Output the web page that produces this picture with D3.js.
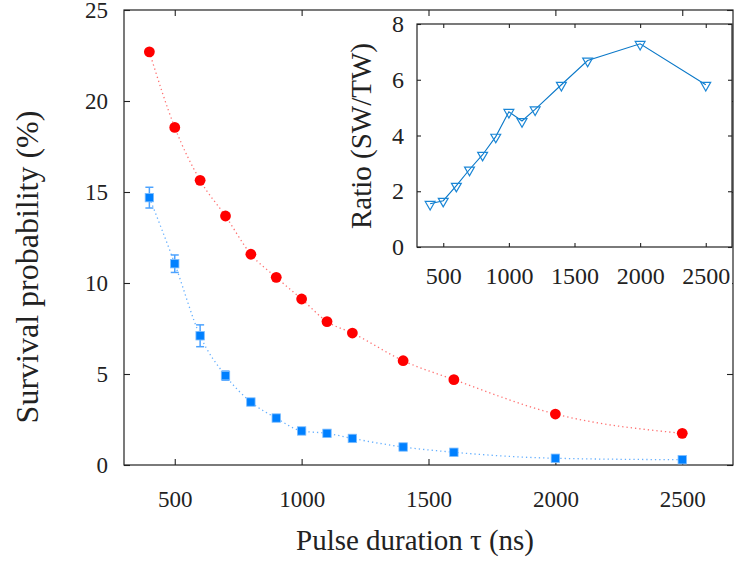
<!DOCTYPE html>
<html>
<head>
<meta charset="utf-8">
<script src="https://cdn.jsdelivr.net/npm/d3@7"></script>
<style>
  body { margin: 0; background: #fff; }
</style>
</head>
<body>
<svg id="chart" width="734" height="563"></svg>
<script>
// pulse durations (ns)
var tau = [400, 500, 600, 700, 800, 900, 1000, 1100, 1200, 1400, 1600, 2000, 2500];
// survival probability (%), red circles
var survRed = [22.7, 18.55, 15.64, 13.68, 11.58, 10.31, 9.12, 7.88, 7.25, 5.73, 4.69, 2.80, 1.74];
// survival probability (%), blue squares, with error
var survBlue = [14.69, 11.06, 7.10, 4.91, 3.46, 2.58, 1.87, 1.74, 1.46, 0.99, 0.70, 0.37, 0.29];
var errBlue = [0.57, 0.48, 0.60, 0.25, 0.12, 0.10, 0.08, 0.08, 0.07, 0.05, 0.05, 0.04, 0.04];
// inset: ratio SW/TW
var ratio = [1.55, 1.66, 2.20, 2.78, 3.31, 3.96, 4.85, 4.52, 4.94, 5.82, 6.69, 7.29, 5.82];

var xTicks = [500, 1000, 1500, 2000, 2500];
var yTicks = [0, 5, 10, 15, 20, 25];
var insetYTicks = [0, 2, 4, 6, 8];

var FONT = "'Liberation Serif', 'Times New Roman', serif";

var svg = d3.select('#chart');

// main axes frame
var main = {left: 124, top: 10, right: 733, bottom: 465};
var x = d3.scaleLinear().domain([300, 2700]).range([main.left, main.right]);
var y = d3.scaleLinear().domain([0, 25]).range([main.bottom, main.top]);

function frame(g, xs, ys, box, xt, yt, fontSize, tickLen, xPad, yPad) {
  // inward ticks on all four sides
  g.append('g')
    .attr('transform', 'translate(0,' + box.bottom + ')')
    .call(d3.axisBottom(xs).tickValues(xt).tickFormat(d3.format('d'))
      .tickSizeInner(-tickLen).tickSizeOuter(0).tickPadding(tickLen + xPad))
    .call(styleAxis, fontSize);
  g.append('g')
    .attr('transform', 'translate(0,' + box.top + ')')
    .call(d3.axisTop(xs).tickValues(xt).tickSizeInner(-tickLen).tickSizeOuter(0).tickFormat(''))
    .call(styleAxis, fontSize);
  g.append('g')
    .attr('transform', 'translate(' + box.left + ',0)')
    .call(d3.axisLeft(ys).tickValues(yt).tickFormat(d3.format('d'))
      .tickSizeInner(-tickLen).tickSizeOuter(0).tickPadding(tickLen + yPad))
    .call(styleAxis, fontSize);
  g.append('g')
    .attr('transform', 'translate(' + box.right + ',0)')
    .call(d3.axisRight(ys).tickValues(yt).tickSizeInner(-tickLen).tickSizeOuter(0).tickFormat(''))
    .call(styleAxis, fontSize);
  g.append('rect')
    .attr('x', box.left).attr('y', box.top)
    .attr('width', box.right - box.left).attr('height', box.bottom - box.top)
    .attr('fill', 'none').attr('stroke', '#222').attr('stroke-width', 1.2);
}

function styleAxis(a, fontSize) {
  a.attr('font-size', fontSize);
  a.select('.domain').remove();
  a.selectAll('.tick line').attr('stroke', '#222').attr('stroke-width', 1.1);
  a.selectAll('text').attr('fill', '#222').style('font-family', FONT);
}

var gMain = svg.append('g');
frame(gMain, x, y, main, xTicks, yTicks, 23, 6, 20, 10);

// dotted guide curves
var guide = d3.line()
  .x(function(d, i) { return x(tau[i]); })
  .y(function(d) { return y(d); })
  .curve(d3.curveMonotoneX);

gMain.append('path')
  .attr('d', guide(survBlue))
  .attr('fill', 'none')
  .attr('stroke', '#66b0ff')
  .attr('stroke-width', 1.3)
  .attr('stroke-dasharray', '1.3,3');

gMain.append('path')
  .attr('d', guide(survRed))
  .attr('fill', 'none')
  .attr('stroke', '#ff7070')
  .attr('stroke-width', 1.3)
  .attr('stroke-dasharray', '1.3,3');

// error bars
var eb = gMain.append('g')
  .attr('stroke', '#4da3ff')
  .attr('stroke-width', 1.5);
tau.forEach(function(t, i) {
  var cx = x(t), y0 = y(survBlue[i] - errBlue[i]), y1 = y(survBlue[i] + errBlue[i]);
  eb.append('line').attr('x1', cx).attr('x2', cx).attr('y1', y0).attr('y2', y1);
  eb.append('line').attr('x1', cx - 4).attr('x2', cx + 4).attr('y1', y0).attr('y2', y0);
  eb.append('line').attr('x1', cx - 4).attr('x2', cx + 4).attr('y1', y1).attr('y2', y1);
});

gMain.selectAll('rect.sq')
  .data(survBlue)
  .enter()
  .append('rect')
  .attr('class', 'sq')
  .attr('x', function(d, i) { return x(tau[i]) - 4.2; })
  .attr('y', function(d) { return y(d) - 4.2; })
  .attr('width', 8.4)
  .attr('height', 8.4)
  .attr('fill', '#0080ff')
  .attr('stroke', '#7dbdff')
  .attr('stroke-width', 0.8);

gMain.selectAll('circle.red')
  .data(survRed)
  .enter()
  .append('circle')
  .attr('class', 'red')
  .attr('cx', function(d, i) { return x(tau[i]); })
  .attr('cy', function(d) { return y(d); })
  .attr('r', 5.4)
  .attr('fill', '#ff0000');

// axis titles
svg.append('text')
  .attr('x', 415).attr('y', 550)
  .attr('text-anchor', 'middle')
  .attr('font-size', 29)
  .attr('fill', '#222')
  .style('font-family', FONT)
  .text('Pulse duration \u03c4 (ns)');

svg.append('text')
  .attr('transform', 'translate(38,267) rotate(-90)')
  .attr('text-anchor', 'middle')
  .attr('font-size', 32)
  .attr('fill', '#222')
  .style('font-family', FONT)
  .text('Survival probability (%)');

// inset
var inset = {left: 417, top: 24, right: 732, bottom: 247};
var xi = d3.scaleLinear().domain([300, 2700]).range([inset.left, inset.right]);
var yi = d3.scaleLinear().domain([0, 8]).range([inset.bottom, inset.top]);

var gIn = svg.append('g');
gIn.append('rect')
  .attr('x', inset.left - 60).attr('y', inset.top - 2)
  .attr('width', inset.right - inset.left + 60).attr('height', inset.bottom - inset.top + 40)
  .attr('fill', '#fff');
frame(gIn, xi, yi, inset, xTicks, insetYTicks, 24, 4, 16, 9);

gIn.append('path')
  .attr('d', d3.line()
    .x(function(d, i) { return xi(tau[i]); })
    .y(function(d) { return yi(d); })(ratio))
  .attr('fill', 'none')
  .attr('stroke', '#0a78c8')
  .attr('stroke-width', 1.1);

var tri = d3.symbol().type(d3.symbolTriangle).size(42);
gIn.selectAll('path.tri')
  .data(ratio)
  .enter()
  .append('path')
  .attr('class', 'tri')
  .attr('d', tri)
  .attr('transform', function(d, i) {
    return 'translate(' + xi(tau[i]) + ',' + (yi(d) + 0.5) + ') rotate(180)';
  })
  .attr('fill', 'none')
  .attr('stroke', '#1a86d6')
  .attr('stroke-width', 1.2);

svg.append('text')
  .attr('transform', 'translate(371,136) rotate(-90)')
  .attr('text-anchor', 'middle')
  .attr('font-size', 29)
  .attr('fill', '#222')
  .style('font-family', FONT)
  .text('Ratio (SW/TW)');
</script>
</body>
</html>
